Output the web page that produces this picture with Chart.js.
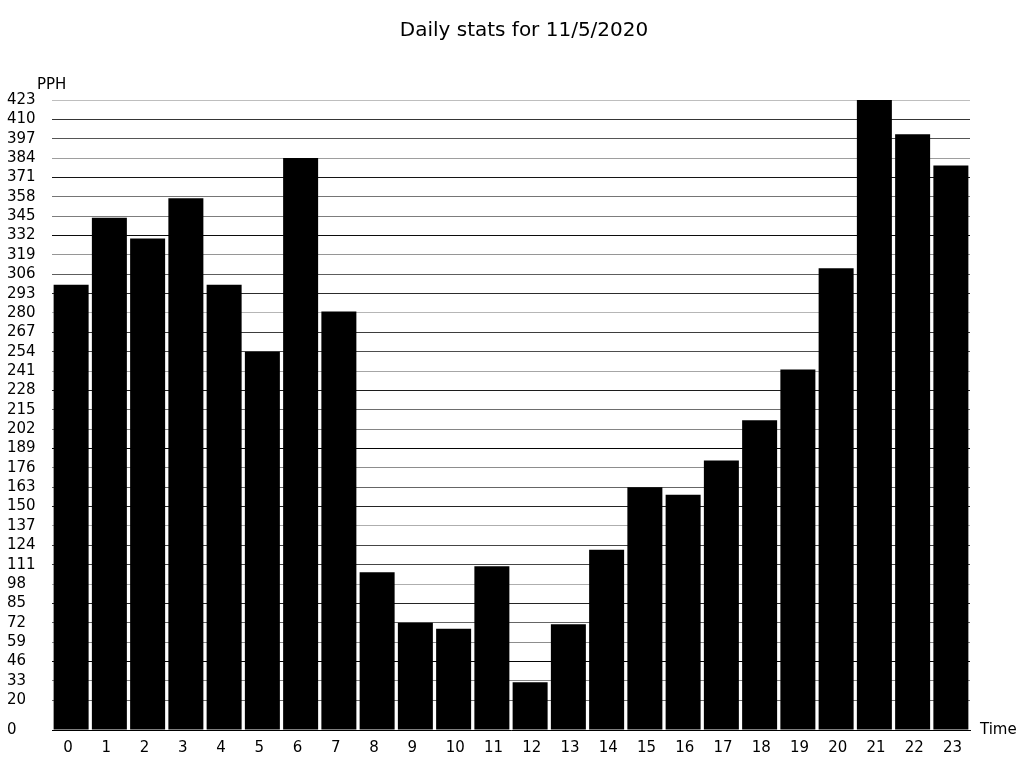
<!DOCTYPE html>
<html>
<head>
<meta charset="utf-8">
<script src="https://cdn.jsdelivr.net/npm/chart.js@4"></script>
<style>
  html, body { margin: 0; padding: 0; background: #fff; }
  #wrap { width: 1024px; height: 768px; }
</style>
</head>
<body>
<div id="wrap"><canvas id="chart" width="1024" height="768"></canvas></div>
<script>
const hours = ["0","1","2","3","4","5","6","7","8","9","10","11","12","13","14","15","16","17","18","19","20","21","22","23"];
const pph = [299, 344, 330, 357, 299, 254, 384, 281, 106, 72, 68, 110, 32, 71, 121, 163, 158, 181, 208, 242, 310, 423, 400, 379];
const yTicks = [0, 20, 33, 46, 59, 72, 85, 98, 111, 124, 137, 150, 163, 176, 189, 202, 215, 228, 241, 254, 267, 280, 293, 306, 319, 332, 345, 358, 371, 384, 397, 410, 423];
const titleText = "Daily stats for 11/5/2020";
const yLabel = "PPH";
const xLabel = "Time";

const FONT = "'DejaVu Sans', sans-serif";

// shade a 1px grid line like an unaligned line would look
function gridShade(ctx) {
  const scale = ctx.chart.scales.y;
  if (!scale || !ctx.tick) return "#000";
  const y = scale.getPixelForValue(ctx.tick.value);
  const dist = Math.abs((y - Math.floor(y)) - 0.5);
  const g = Math.min(190, Math.round(dist * 380));
  return `rgb(${g},${g},${g})`;
}

// title and axis names sit outside the plot box, centred on the page
const labelsPlugin = {
  id: "labelsPlugin",
  afterDraw(chart) {
    const c = chart.ctx;
    const area = chart.chartArea;
    c.save();
    c.fillStyle = "#000";
    c.textBaseline = "middle";
    c.font = `20px ${FONT}`;
    c.textAlign = "center";
    c.fillText(titleText, 524, 31);
    c.font = `15px ${FONT}`;
    c.textAlign = "left";
    c.fillText(yLabel, 37, 85);
    c.fillText(xLabel, area.right + 10, area.bottom);
    c.restore();
  }
};

new Chart(document.getElementById("chart"), {
  type: "bar",
  data: {
    labels: hours,
    datasets: [{
      label: "PPH",
      data: pph,
      backgroundColor: "#000",
      borderWidth: 0,
      barPercentage: 0.915,
      categoryPercentage: 1
    }]
  },
  options: {
    responsive: false,
    animation: false,
    layout: { padding: { left: 7, right: 54, top: 100, bottom: 0 } },
    plugins: {
      legend: { display: false },
      tooltip: { enabled: false },
      title: { display: false }
    },
    scales: {
      x: {
        grid: { display: false },
        border: { display: true, color: "#000", width: 1 },
        ticks: {
          color: "#000",
          font: { family: FONT, size: 15 },
          align: "start",
          labelOffset: -8,
          padding: 1,
          maxRotation: 0,
          autoSkip: false
        },
        afterFit(scale) { scale.height = 38; }
      },
      y: {
        min: 0,
        max: 423,
        border: { display: false },
        grid: { color: gridShade, lineWidth: 1, drawTicks: false },
        ticks: {
          color: "#000",
          font: { family: FONT, size: 15 },
          crossAlign: "far",
          padding: 6,
          autoSkip: false
        },
        afterBuildTicks(scale) {
          scale.ticks = yTicks.map((v) => ({ value: v }));
        },
        afterFit(scale) { scale.width = 45; }
      }
    }
  },
  plugins: [labelsPlugin]
});
</script>
</body>
</html>
